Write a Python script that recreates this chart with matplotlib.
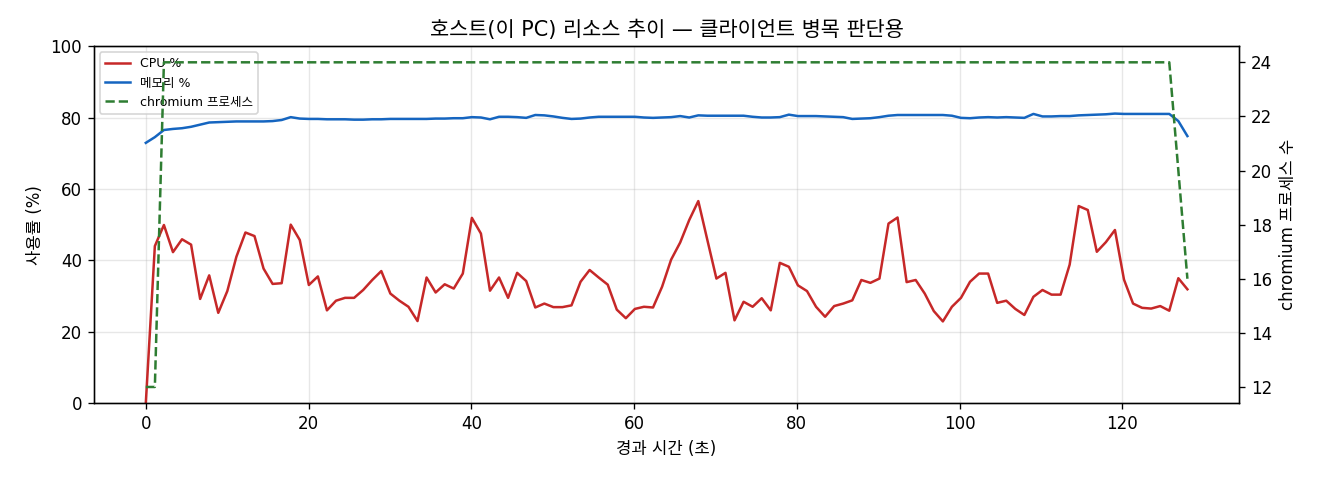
import numpy as np
import matplotlib
matplotlib.use("Agg")
import matplotlib.pyplot as plt

plt.rcParams['font.family'] = ['DejaVu Sans', 'Noto Sans CJK KR']
plt.rcParams['axes.unicode_minus'] = False

# 경과 시간 (초) - 116 samples over ~128 s
elapsed = np.linspace(0, 128, 116)

cpu = [
    0, 44, 49.9, 42.3, 45.9, 44.4, 29.2, 35.8, 25.3, 31.4,
    41, 47.8, 46.8, 37.7, 33.4, 33.6, 50, 45.7, 33.1, 35.5,
    26, 28.7, 29.5, 29.5, 31.7, 34.5, 37, 30.7, 28.7, 27,
    23, 35.2, 31, 33.3, 32.1, 36.3, 51.9, 47.5, 31.5, 35.2,
    29.5, 36.5, 34.2, 26.8, 27.9, 26.9, 26.9, 27.4, 34, 37.3,
    35.2, 33.2, 26.2, 23.8, 26.4, 27, 26.8, 32.6, 40.2, 45,
    51.3, 56.6, 45.7, 34.9, 36.5, 23.2, 28.4, 27, 29.4, 26,
    39.3, 38.2, 33, 31.4, 27, 24.2, 27.2, 27.9, 28.8, 34.5,
    33.7, 34.9, 50.3, 52, 33.9, 34.5, 30.7, 25.8, 22.9, 27,
    29.5, 34, 36.3, 36.3, 28.1, 28.7, 26.4, 24.7, 29.8, 31.7,
    30.4, 30.4, 38.8, 55.2, 54.1, 42.4, 45.1, 48.5, 34.6, 27.9,
    26.7, 26.5, 27.2, 25.9, 35, 31.9,
]

mem = [
    72.9, 74.5, 76.5, 76.8, 77.0, 77.4, 78.0, 78.6, 78.7, 78.8,
    78.9, 78.9, 78.9, 78.9, 79.0, 79.3, 80.1, 79.7, 79.6, 79.6,
    79.5, 79.5, 79.5, 79.4, 79.4, 79.5, 79.5, 79.6, 79.6, 79.6,
    79.6, 79.6, 79.7, 79.7, 79.8, 79.8, 80.1, 80.0, 79.5, 80.2,
    80.2, 80.1, 79.9, 80.7, 80.6, 80.3, 79.9, 79.6, 79.7, 80.0,
    80.2, 80.2, 80.2, 80.2, 80.2, 80.0, 79.9, 80.0, 80.1, 80.4,
    80.0, 80.6, 80.5, 80.5, 80.5, 80.5, 80.5, 80.2, 80.0, 80.0,
    80.1, 80.8, 80.4, 80.4, 80.4, 80.3, 80.2, 80.1, 79.6, 79.7,
    79.8, 80.1, 80.5, 80.7, 80.7, 80.7, 80.7, 80.7, 80.7, 80.5,
    79.9, 79.8, 80.0, 80.1, 80.0, 80.1, 80.0, 79.9, 81.0, 80.3,
    80.3, 80.4, 80.4, 80.6, 80.7, 80.8, 80.9, 81.1, 81.0, 81.0,
    81.0, 81.0, 81.0, 81.0, 79.0, 74.8,
]

chromium = [12, 12] + [24] * 112 + [20, 16]

fig, ax = plt.subplots(figsize=(11, 4), dpi=120)
l1, = ax.plot(elapsed, cpu, color='#c62828', lw=1.5, label='CPU %')
l2, = ax.plot(elapsed, mem, color='#1565c0', lw=1.5, label='메모리 %')
ax.set_ylim(0, 100)
ax.set_xlabel('경과 시간 (초)', fontsize=10)
ax.set_ylabel('사용률 (%)', fontsize=10)
ax.grid(True, alpha=0.3)
ax.tick_params(labelsize=10)

ax2 = ax.twinx()
l3, = ax2.plot(elapsed, chromium, color='#2e7d32', lw=1.5, ls='--',
               label='chromium 프로세스')
ax2.set_ylabel('chromium 프로세스 수', fontsize=10)
ax2.tick_params(labelsize=10)

ax.legend(handles=[l1, l2, l3], loc='upper left', fontsize=7.5)
ax.set_title('호스트(이 PC) 리소스 추이 — 클라이언트 병목 판단용', fontsize=12.5)

fig.subplots_adjust(left=0.071, right=0.939, top=0.904, bottom=0.160)
fig.savefig('out.png')
